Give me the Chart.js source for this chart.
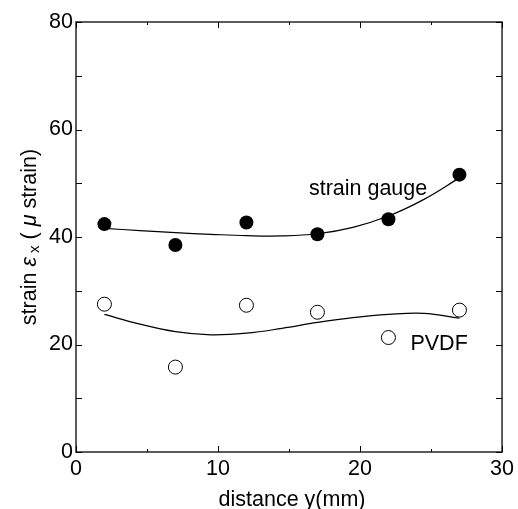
<!DOCTYPE html>
<html>
<head>
<meta charset="utf-8">
<script src="https://cdn.jsdelivr.net/npm/chart.js@4.4.1/dist/chart.umd.min.js"></script>
<style>
  html, body { margin: 0; padding: 0; background: #fff; }
  #wrap { width: 518px; height: 509px; position: relative; }
</style>
</head>
<body>
<div id="wrap"><canvas id="chart" width="518" height="509"></canvas></div>
<script>
// measured points (distance in mm, strain in micro strain)
const distance = [2, 7, 12, 17, 22, 27];
const gaugeStrain = [42.4, 38.5, 42.7, 40.5, 43.3, 51.6];
const pvdfStrain = [27.5, 15.8, 27.3, 26.0, 21.3, 26.4];

// fitted curves
const fitX = [2, 4.5, 7, 9.5, 12, 14.5, 17, 19.5, 22, 24.5, 27];
const gaugeFit = [41.6, 41.2, 40.8, 40.5, 40.25, 40.2, 40.6, 41.8, 43.9, 47.0, 51.0];
const pvdfFit = [25.6, 23.8, 22.4, 21.8, 22.1, 23.0, 24.1, 25.0, 25.6, 25.8, 24.9];

const xTitle = 'distance y(mm)';
const seriesNames = ['strain gauge', 'PVDF'];

const FONT = "'Liberation Sans', Arial, sans-serif";
const FS = 21.5;

const pts = (xs, ys) => xs.map((x, i) => ({ x: x, y: ys[i] }));

// frame, inward ticks, titles and in-plot labels
const decor = {
  id: 'decor',
  beforeDatasetsDraw(chart) {
    const { ctx, chartArea: a, scales: { x, y } } = chart;
    ctx.save();
    ctx.strokeStyle = '#333';
    ctx.lineWidth = 1.6;
    ctx.strokeRect(a.left, a.top, a.right - a.left, a.bottom - a.top);
    ctx.lineWidth = 1;
    ctx.strokeStyle = '#000';
    ctx.beginPath();
    x.ticks.forEach(t => {
      const px = Math.round(x.getPixelForValue(t.value)) + 0.5;
      const len = t.value % 10 === 0 ? 6 : 3;
      ctx.moveTo(px, a.bottom); ctx.lineTo(px, a.bottom - len);
      ctx.moveTo(px, a.top); ctx.lineTo(px, a.top + len);
    });
    y.ticks.forEach(t => {
      const py = Math.round(y.getPixelForValue(t.value)) + 0.5;
      ctx.moveTo(a.left, py); ctx.lineTo(a.left + 6, py);
      ctx.moveTo(a.right, py); ctx.lineTo(a.right - 6, py);
    });
    ctx.stroke();
    ctx.restore();
  },
  afterDraw(chart) {
    const { ctx, chartArea: a, scales: { x, y } } = chart;
    ctx.save();
    ctx.fillStyle = '#000';
    ctx.font = FS + 'px ' + FONT;
    ctx.textBaseline = 'alphabetic';

    // x title
    ctx.textAlign = 'center';
    ctx.fillText(xTitle, (a.left + a.right) / 2 + 3, 506);

    // series labels
    ctx.textAlign = 'left';
    ctx.textBaseline = 'middle';
    ctx.fillText(seriesNames[0], x.getPixelForValue(16.4), y.getPixelForValue(48.9));
    ctx.fillText(seriesNames[1], x.getPixelForValue(23.55), y.getPixelForValue(20.1));

    // y title: strain εx (μ strain), rotated
    ctx.translate(36, (a.top + a.bottom) / 2);
    ctx.rotate(-Math.PI / 2);
    ctx.textBaseline = 'alphabetic';
    const parts = [
      { t: 'strain ', f: FS + 'px ' + FONT, dy: 0 },
      { t: 'ε', f: 'italic ' + FS + 'px ' + FONT, dy: 0 },
      { t: ' x', f: '15px ' + FONT, dy: 3 },
      { t: ' ( ', f: FS + 'px ' + FONT, dy: 0 },
      { t: 'μ', f: 'italic ' + FS + 'px ' + FONT, dy: 0 },
      { t: ' strain)', f: FS + 'px ' + FONT, dy: 0 }
    ];
    let total = 0;
    parts.forEach(p => { ctx.font = p.f; p.w = ctx.measureText(p.t).width; total += p.w; });
    let cx = -total / 2;
    parts.forEach(p => {
      ctx.font = p.f;
      ctx.fillText(p.t, cx, p.dy);
      cx += p.w;
    });
    ctx.restore();
  }
};

Chart.defaults.font.family = FONT;
Chart.defaults.font.size = FS;
Chart.defaults.color = '#000';

new Chart(document.getElementById('chart'), {
  type: 'scatter',
  data: {
    datasets: [
      {
        label: 'strain gauge',
        data: pts(distance, gaugeStrain),
        pointRadius: 7,
        pointBackgroundColor: '#000',
        pointBorderColor: '#000',
        pointBorderWidth: 0
      },
      {
        label: 'PVDF',
        data: pts(distance, pvdfStrain),
        pointRadius: 7,
        pointBackgroundColor: '#fff',
        pointBorderColor: '#000',
        pointBorderWidth: 1
      },
      {
        label: 'strain gauge fit',
        data: pts(fitX, gaugeFit),
        showLine: true,
        pointRadius: 0,
        borderColor: '#000',
        borderWidth: 1.2,
        tension: 0.4
      },
      {
        label: 'PVDF fit',
        data: pts(fitX, pvdfFit),
        showLine: true,
        pointRadius: 0,
        borderColor: '#000',
        borderWidth: 1.2,
        tension: 0.4
      }
    ]
  },
  options: {
    responsive: false,
    animation: false,
    events: [],
    layout: { padding: { left: 0, right: 14, top: 22, bottom: 0 } },
    plugins: { legend: { display: false }, tooltip: { enabled: false } },
    scales: {
      x: {
        type: 'linear', min: 0, max: 30,
        grid: { display: false, drawTicks: false },
        border: { display: false },
        ticks: {
          stepSize: 5, padding: 4, maxRotation: 0,
          callback: v => (v % 10 === 0 ? v : '')
        },
        afterFit: s => { s.height = 57; }
      },
      y: {
        type: 'linear', min: 0, max: 80,
        grid: { display: false, drawTicks: false },
        border: { display: false },
        ticks: {
          stepSize: 10, padding: 3,
          callback: v => (v % 20 === 0 ? v : '')
        },
        afterFit: s => { s.width = 76; }
      }
    }
  },
  plugins: [decor]
});
</script>
</body>
</html>
